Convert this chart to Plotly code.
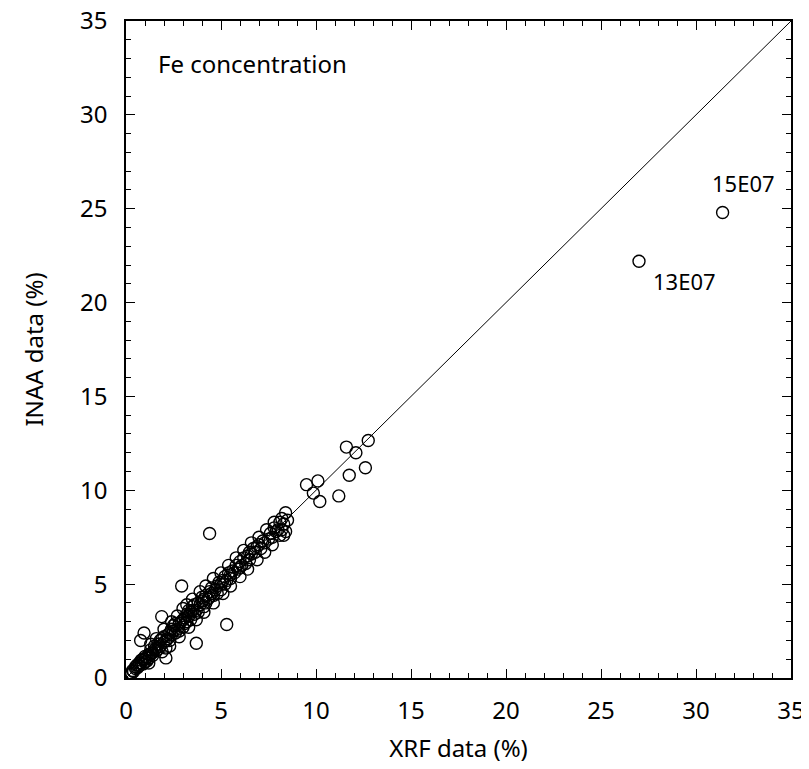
import plotly.graph_objects as go

# XRF (x) and INAA (y) Fe concentrations (%)
xrf = [0.2, 0.3, 0.35, 0.4, 0.5, 0.5, 0.6, 0.6, 0.7, 0.7, 0.8, 0.8, 0.9, 0.9, 1.0, 1.0, 1.0, 1.1, 1.1, 1.2,
       1.2, 1.3, 1.3, 1.4, 1.4, 1.5, 1.5, 1.6, 1.6, 1.7, 1.7, 1.8, 1.8, 1.9, 2.0, 2.0, 2.1, 2.1, 2.2, 2.2,
       2.3, 2.3, 2.4, 2.4, 2.5, 2.5, 2.6, 2.6, 2.7, 2.8, 2.8, 2.9, 3.0, 3.0, 3.1, 3.1, 3.2, 3.2, 3.3, 3.3,
       3.4, 3.4, 3.5, 3.5, 3.6, 3.6, 3.7, 3.8, 3.8, 3.9, 4.0, 4.0, 4.1, 4.1, 4.2, 4.2, 4.3, 4.4, 4.4, 4.5,
       4.5, 4.6, 4.7, 4.8, 4.8, 4.9, 5.0, 5.0, 5.1, 5.2, 5.2, 5.3, 5.4, 5.5, 5.5, 5.6, 5.7, 5.8, 5.9, 6.0,
       6.0, 6.1, 6.2, 6.3, 6.4, 6.5, 6.5, 6.6, 6.7, 6.8, 6.9, 7.0, 7.1, 7.2, 7.3, 7.5, 7.6, 7.7, 7.8, 7.9,
       8.0, 8.1, 8.2, 8.2, 8.3, 8.3, 8.4, 8.4, 8.5,
       1.3, 1.6, 2.0, 2.4, 2.7, 3.0, 3.2, 3.5, 3.9, 4.2, 4.6, 5.0, 5.4, 5.8, 6.2, 6.6, 7.0, 7.4, 7.8,
       1.2, 1.9, 2.3, 2.8, 3.3, 3.7, 4.1, 4.6, 5.1, 5.5, 6.0, 6.4, 6.9, 7.3, 7.7, 8.1,
       0.77, 0.95, 1.88, 2.1, 2.93, 3.7, 4.4, 5.3,
       9.5, 9.86, 10.1, 10.2, 11.2, 11.6, 11.75, 12.1, 12.6, 12.75,
       27.0, 31.4]
inaa = [0.2, 0.25, 0.4, 0.35, 0.5, 0.6, 0.55, 0.7, 0.65, 0.8, 0.8, 0.95, 0.75, 1.0, 1.0, 1.15, 0.85, 1.1, 0.9, 1.25,
        1.05, 1.3, 1.5, 1.35, 1.2, 1.5, 1.7, 1.45, 1.6, 1.8, 1.55, 1.7, 2.0, 2.1, 1.9, 2.2, 2.0, 1.6, 2.3, 2.1,
        2.4, 2.0, 2.6, 2.3, 2.5, 2.8, 2.4, 2.9, 2.6, 2.9, 2.5, 3.0, 3.1, 2.7, 3.2, 2.9, 3.4, 3.0, 3.3, 3.6,
        3.5, 3.1, 3.6, 3.8, 3.4, 3.9, 3.6, 4.0, 3.5, 3.9, 4.1, 4.3, 3.8, 4.2, 4.4, 4.0, 4.2, 4.6, 4.3, 4.5,
        4.8, 4.4, 4.7, 4.9, 4.5, 5.1, 5.0, 4.7, 5.2, 5.4, 5.0, 5.2, 5.6, 5.5, 5.3, 5.7, 5.6, 6.0, 5.8, 6.2,
        5.9, 6.0, 6.4, 6.1, 6.5, 6.3, 6.7, 6.6, 6.9, 6.7, 7.0, 7.1, 6.9, 7.3, 7.2, 7.4, 7.7, 7.5, 8.0, 7.8,
        7.9, 8.3, 8.5, 7.9, 8.2, 7.6, 8.8, 7.8, 8.4,
        1.8, 2.1, 2.6, 3.0, 3.3, 3.7, 3.9, 4.2, 4.6, 4.9, 5.3, 5.6, 6.0, 6.4, 6.8, 7.2, 7.5, 7.9, 8.3,
        0.8, 1.4, 1.7, 2.2, 2.7, 3.1, 3.5, 4.0, 4.5, 4.9, 5.4, 5.8, 6.3, 6.7, 7.1, 7.6,
        2.0, 2.4, 3.27, 1.07, 4.9, 1.85, 7.7, 2.85,
        10.3, 9.85, 10.5, 9.4, 9.7, 12.3, 10.8, 12.0, 11.2, 12.65,
        22.2, 24.8]

line_x = [0, 35]
line_y = [0, 35]

labels = ["13E07", "15E07"]
label_x = [27.0, 31.4]
label_y = [22.2, 24.8]

FONT = "'Noto Sans', sans-serif"

fig = go.Figure()
fig.add_trace(go.Scatter(x=line_x, y=line_y, mode="lines",
                         line=dict(color="black", width=1), showlegend=False, hoverinfo="skip"))
fig.add_trace(go.Scatter(x=xrf, y=inaa, mode="markers",
                         marker=dict(symbol="circle-open", size=12, color="black", line=dict(width=1.4)),
                         showlegend=False))

fig.add_annotation(x=label_x[0], y=label_y[0], text=labels[0], showarrow=False,
                   xanchor="left", yanchor="top", xshift=12, yshift=-3, font=dict(size=22, color="black", family=FONT))
fig.add_annotation(x=label_x[1], y=label_y[1], text=labels[1], showarrow=False,
                   xanchor="left", yanchor="bottom", xshift=-13, yshift=12, font=dict(size=22, color="black", family=FONT))
fig.add_annotation(x=1.6, y=32.75, text="Fe concentration", showarrow=False,
                   xanchor="left", yanchor="middle", font=dict(size=24, color="black", family=FONT))

axis_common = dict(range=[0, 35], dtick=5, tick0=0, ticks="inside", ticklen=9, tickwidth=1.2,
                   tickcolor="black", showline=True, linecolor="black", linewidth=1.5, mirror="ticks",
                   showgrid=False, zeroline=False, automargin=False, ticklabeloverflow="allow",
                   minor=dict(dtick=1, ticks="inside", ticklen=5, tickwidth=1, tickcolor="black", showgrid=False),
                   tickfont=dict(size=24, color="black", family=FONT))

fig.update_xaxes(**axis_common, ticklabelstandoff=10,
                 title=dict(text="XRF data (%)", font=dict(size=24, color="black", family=FONT), standoff=16))
fig.update_yaxes(**axis_common, ticklabelstandoff=12,
                 title=dict(text="INAA data (%)", font=dict(size=24, color="black", family=FONT), standoff=30))

fig.update_layout(width=809, height=769, margin=dict(l=118, r=26, t=13, b=99),
                  plot_bgcolor="white", paper_bgcolor="white", font=dict(family=FONT))

fig.write_html("out.html")
